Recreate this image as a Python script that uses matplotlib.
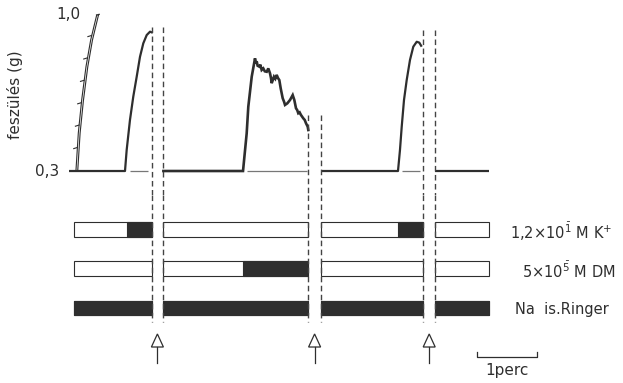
import numpy as np
import matplotlib
matplotlib.use("Agg")
import matplotlib.pyplot as plt
from matplotlib.patches import Rectangle, Polygon

plt.rcParams['font.family'] = ['DejaVu Sans']

# ---- data (time in minutes, tension in g) ----
seg1_t = [-0.083, 0.85, 0.878, 0.933, 0.988, 1.045, 1.100, 1.155, 1.212, 1.267, 1.312]
seg1_g = [0.300, 0.300, 0.394, 0.528, 0.632, 0.721, 0.810, 0.870, 0.907, 0.922, 0.917]

seg2_t = [1.49, 2.817, 2.878, 2.905, 2.962, 3.017, 3.030, 3.045, 3.060, 3.088, 3.105, 3.128,
          3.155, 3.180, 3.212, 3.238, 3.267, 3.283, 3.295, 3.333, 3.355, 3.378, 3.400, 3.422,
          3.445, 3.478, 3.500, 3.517, 3.555, 3.600, 3.645, 3.672, 3.700, 3.720, 3.738, 3.760,
          3.783, 3.822, 3.845, 3.867, 3.895, 3.905]
seg2_g = [0.300, 0.300, 0.468, 0.587, 0.721, 0.803, 0.780, 0.790, 0.770, 0.766, 0.775, 0.751,
          0.758, 0.745, 0.743, 0.758, 0.736, 0.715, 0.692, 0.721, 0.712, 0.729, 0.715, 0.706,
          0.669, 0.625, 0.610, 0.595, 0.602, 0.617, 0.639, 0.617, 0.580, 0.572, 0.558, 0.562,
          0.550, 0.535, 0.528, 0.513, 0.498, 0.483]

seg3_t = [4.12, 5.400, 5.433, 5.462, 5.500, 5.545, 5.600, 5.655, 5.712, 5.755, 5.795]
seg3_g = [0.300, 0.300, 0.394, 0.498, 0.617, 0.706, 0.796, 0.855, 0.877, 0.873, 0.855]

seg4_t = [6.02, 6.917]
seg4_g = [0.300, 0.300]

# thin reference baseline under each contraction
ref_start = [0.933, 2.883, 5.467]
ref_end = [1.233, 3.883, 5.767]

# recording breaks (pairs of dashed lines) and where the dashes start
break_left = [1.30, 3.908, 5.825]
break_right = [1.49, 4.12, 6.02]
break_top = [0.943, 0.550, 0.929]

# calibration arc of the pen recorder
arc_t = [0.033, 0.072, 0.128, 0.200, 0.278, 0.378]
arc_g = [0.304, 0.470, 0.617, 0.766, 0.885, 0.996]
arc_ticks = [0.4, 0.5, 0.6, 0.7, 0.8, 0.9]

# solution bars
sections = [(0.0, 1.30), (1.49, 3.908), (4.12, 5.825), (6.02, 6.925)]
rows = [r'1,2×10$^{\bar{1}}$ M K$^{+}$', r'5×10$^{\bar{5}}$ M DM', 'Na  is.Ringer']
label_t = [7.27, 7.47, 7.35]
on_periods = [
    [(0.878, 1.30), (5.405, 5.825)],
    [(2.811, 3.908)],
    [(0.0, 1.30), (1.49, 3.908), (4.12, 5.825), (6.02, 6.925)],
]
arrow_t = [1.39, 4.01, 5.92]
scale_start, scale_len = 6.711, 1.0

INK = '#2e2e2e'

fig = plt.figure(figsize=(6.23, 3.83), dpi=100)
ax = fig.add_axes([0, 1 - 195 / 383, 1, 195 / 383])
axb = fig.add_axes([0, 0, 1, 188 / 383])
for a in (ax, axb):
    a.set_xlim(-1.2333, 9.15)
    a.axis('off')
ax.set_ylim(0.1929, 1.0634)
axb.set_ylim(3.911, -0.879)

# ---- trace ----
for t, g in [(seg1_t, seg1_g), (seg3_t, seg3_g), (seg4_t, seg4_g)]:
    ax.plot(t, g, color=INK, lw=1.6, solid_capstyle='butt')
ax.plot(seg2_t, seg2_g, color=INK, lw=1.9, solid_joinstyle='miter')
ax.hlines([0.3] * len(ref_start), ref_start, ref_end, color='#777777', lw=0.9)

# calibration arc (double line with ticks)
ax.plot(arc_t, arc_g, color=INK, lw=0.8)
ax.plot(np.array(arc_t) + 0.03, arc_g, color=INK, lw=0.8)
for g in arc_ticks:
    x0 = np.interp(g, arc_g, arc_t)
    ax.plot([x0 - 0.06, x0], [g, g + 0.005], color=INK, lw=0.8)
ax.plot([arc_t[-1], arc_t[-1] + 0.04], [arc_g[-1], arc_g[-1] + 0.003], color=INK, lw=1.0)

ax.text(0.1, 1.0, '1,0', ha='right', va='center', fontsize=11, color=INK)
ax.text(-0.25, 0.3, '0,3', ha='right', va='center', fontsize=11, color=INK)
ax.text(-0.98, 0.64, 'feszülés (g)', rotation=90, ha='center', va='center',
        fontsize=11, color=INK)

# dashed break lines
dash = dict(color='#444444', lw=1.0, linestyles=[(0, (4, 2.5))])
for tl, tr, top in zip(break_left, break_right, break_top):
    ax.vlines([tl, tr], top, 0.1929, **dash)
    axb.vlines([tl, tr], -0.879, 2.36, **dash)

# ---- solution bars ----
h = 0.38
for i, label in enumerate(rows):
    for s0, s1 in sections:
        axb.add_patch(Rectangle((s0, i - h / 2), s1 - s0, h, facecolor='white',
                                edgecolor=INK, lw=0.8))
    for p0, p1 in on_periods[i]:
        axb.add_patch(Rectangle((p0, i - h / 2), p1 - p0, h, facecolor=INK,
                                edgecolor=INK, lw=0.8))
    axb.text(label_t[i], i + 0.05, label, ha='left', va='center', fontsize=10.5, color=INK)

# arrows marking solution changes
for t in arrow_t:
    axb.add_patch(Polygon([[t - 0.1, 2.994], [t + 0.1, 2.994], [t, 2.662]], closed=True,
                          fill=False, edgecolor=INK, lw=0.9))
    axb.plot([t, t], [2.994, 3.40], color=INK, lw=0.9)

# time scale bar
axb.plot([scale_start, scale_start, scale_start + scale_len, scale_start + scale_len],
         [3.12, 3.25, 3.25, 3.12], color=INK, lw=0.9)
axb.text(scale_start + scale_len / 2, 3.6, '1perc', ha='center', va='center',
         fontsize=11, color=INK)

fig.savefig('out.png', dpi=100)
